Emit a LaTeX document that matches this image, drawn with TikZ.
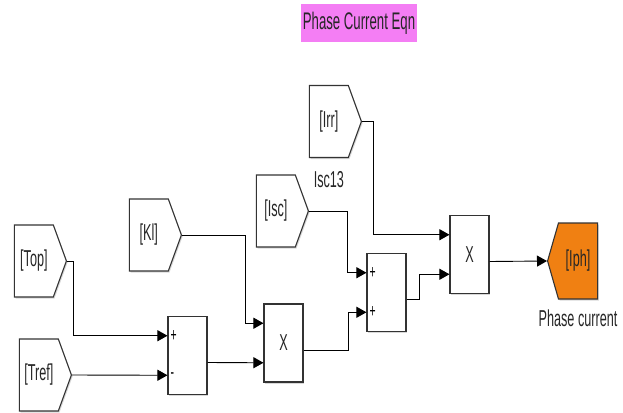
\documentclass[tikz,border=0pt]{standalone}
\usepackage{fontspec}
\setmainfont{Liberation Sans}[FakeStretch=0.55]
\usetikzlibrary{arrows.meta,positioning,calc,shapes.symbols,shadows}
\definecolor{magbox}{HTML}{F47EF4}
\definecolor{gotoorange}{HTML}{F08012}

\begin{document}
\begin{tikzpicture}[x=1pt,y=-1pt,>={Triangle[length=10pt,width=11pt]},
  txt/.style={font=\fontsize{23}{26}\selectfont,text=black!85},
  shad/.style={drop shadow={shadow xshift=1.2pt,shadow yshift=-1.5pt,fill=black!30}},
  blk/.style={draw=black!80,line width=1.1pt,fill=white,minimum width=39pt,minimum height=78pt,inner sep=0pt,txt,shad},
  fromblk/.style={signal,signal to=east,signal pointer angle=140,draw=black!80,line width=1.1pt,fill=white,minimum width=52pt,minimum height=72pt,inner sep=1pt,txt,shad},
  gotoblk/.style={signal,signal to=west,signal pointer angle=148,draw=black!80,line width=1.1pt,fill=gotoorange,minimum width=50pt,minimum height=76pt,inner sep=1pt,txt,shad},
  sign/.style={font=\fontsize{19}{20}\selectfont,inner sep=0pt},
  sig/.style={->,line width=0.9pt}]
\useasboundingbox (0,0) rectangle (623,412);
\node[fill=magbox,minimum width=116pt,minimum height=38pt,inner sep=0pt,txt,font=\fontsize{24}{26}\selectfont] (title) at (359,23) {Phase Current Eqn};
% from blocks
\node[fromblk,anchor=east] (top) at (67,261) {[Top]};
\node[fromblk,anchor=east] (tref) at (72,375) {[Tref]};
\node[fromblk,anchor=east] (kl) at (182,235) {[Kl]};
\node[fromblk,anchor=east] (isc) at (309,211) {[Isc]};
\node[fromblk,anchor=east] (irr) at (362,121.5) {[Irr]};
\node[txt,below=10pt of irr] (irrlbl) {Isc13};
% sums and products
\node[blk] (sum1) at (187.5,355.5) {};
\node[blk] (mult1) at (283.5,343) {X};
\node[blk] (sum2) at (386.5,292.5) {};
\node[blk] (mult2) at (469.5,254.5) {X};
\node[gotoblk,anchor=west] (iph) at (547,261) {[Iph]};
\node[txt,below=7pt of iph] (iphlbl) {Phase current};
\coordinate (s1p) at ($(sum1.north west)!.25!(sum1.south west)$);
\coordinate (s1m) at ($(sum1.north west)!.75!(sum1.south west)$);
\coordinate (m1a) at ($(mult1.north west)!.25!(mult1.south west)$);
\coordinate (m1b) at ($(mult1.north west)!.75!(mult1.south west)$);
\coordinate (s2a) at ($(sum2.north west)!.25!(sum2.south west)$);
\coordinate (s2b) at ($(sum2.north west)!.75!(sum2.south west)$);
\coordinate (m2a) at ($(mult2.north west)!.25!(mult2.south west)$);
\coordinate (m2b) at ($(mult2.north west)!.75!(mult2.south west)$);
\node[sign,right=3pt of s1p] (s1pl) {+};
\node[sign,right=3pt of s1m] (s1mi) {-};
\node[sign,right=3pt of s2a] (s2apl) {+};
\node[sign,right=3pt of s2b] (s2bpl) {+};
% signals
\draw[sig] (top.east) -- ++(6,0) |- (s1p);
\draw[sig] (tref.east) -- (s1m);
\draw[sig] (kl.east) -- ++(63,0) |- (m1a);
\draw[sig] ($(sum1.east)+(0,7)$) -- (m1b);
\draw[sig] ($(mult1.east)+(0,7)$) -- ++(45,0) |- (s2b);
\draw[sig] (isc.east) -- ++(38,0) |- (s2a);
\draw[sig] (irr.east) -- ++(11,0) |- (m2a);
\draw[sig] ($(sum2.east)+(0,7)$) -- ++(13,0) |- (m2b);
\draw[sig] ($(mult2.east)+(0,7)$) -- (iph.west);
\end{tikzpicture}
\end{document}
